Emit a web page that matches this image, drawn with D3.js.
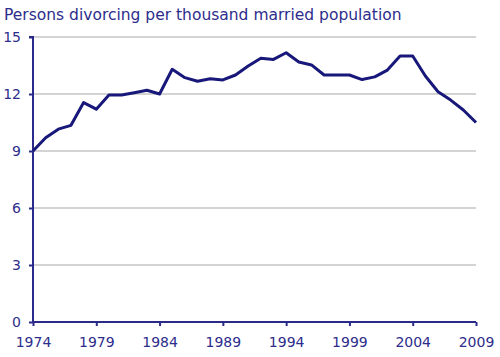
<!DOCTYPE html>
<html><head><meta charset="utf-8">
<script src="https://cdn.jsdelivr.net/npm/d3@7"></script>
<style>body{margin:0;background:#fff}svg{display:block}</style>
</head><body>
<script>
const years = d3.range(1974, 2010);
const values = [9.0, 9.7, 10.15, 10.35, 11.55, 11.2, 11.95, 11.95, 12.07, 12.2, 12.0, 13.3,
  12.86, 12.67, 12.8, 12.74, 13.0, 13.47, 13.88, 13.82, 14.17, 13.68, 13.53, 13.0,
  13.0, 13.0, 12.76, 12.9, 13.26, 14.0, 14.0, 12.95, 12.12, 11.68, 11.16, 10.5];
const yTicks = [0, 3, 6, 9, 12, 15];
const xTicks = [1974, 1979, 1984, 1989, 1994, 1999, 2004, 2009];
const title = "Persons divorcing per thousand married population";

const W = 500, H = 357;
const svg = d3.select("body").append("svg").attr("width", W).attr("height", H);
const x = d3.scaleLinear().domain([1974, 2009]).range([33, 476]);
const y = d3.scaleLinear().domain([0, 15]).range([322, 37]);
const txt = "#2d2d8c", axc = "#2a2a8a";
const font = "Verdana, 'DejaVu Sans', sans-serif";

svg.append("text").attr("x", 4).attr("y", 19.5).attr("fill", txt)
  .style("font-family", font).style("font-size", "15.5px").text(title);

// gridlines
svg.append("g").selectAll("line").data(yTicks.filter(d => d > 0)).join("line")
  .attr("x1", 33).attr("x2", 476).attr("y1", d => y(d)).attr("y2", d => y(d))
  .attr("stroke", "#c4c4c4").attr("stroke-width", 1.5);

const yAxis = svg.append("g").attr("transform", "translate(33,0)")
  .call(d3.axisLeft(y).tickValues(yTicks).tickSize(4).tickPadding(8).tickFormat(d3.format("d")));
const xAxis = svg.append("g").attr("transform", "translate(0,322)")
  .call(d3.axisBottom(x).tickValues(xTicks).tickSize(4).tickPadding(11).tickFormat(d3.format("d")));
[yAxis, xAxis].forEach(g => {
  g.select(".domain").attr("stroke", axc).attr("stroke-width", 2);
  g.selectAll(".tick line").attr("stroke", axc).attr("stroke-width", 2);
  g.selectAll("text").attr("fill", txt).style("font-family", font).style("font-size", "14px");
});
yAxis.select(".domain").attr("d", "M-4," + y(15) + "H0V" + y(0));
xAxis.select(".domain").attr("d", "M33,0H476");

svg.append("path").datum(years.map((yr, i) => [yr, values[i]]))
  .attr("fill", "none").attr("stroke", "#18187a").attr("stroke-width", 3)
  .attr("stroke-linejoin", "round")
  .attr("d", d3.line().x(d => x(d[0])).y(d => y(d[1])));
</script>
</body></html>
